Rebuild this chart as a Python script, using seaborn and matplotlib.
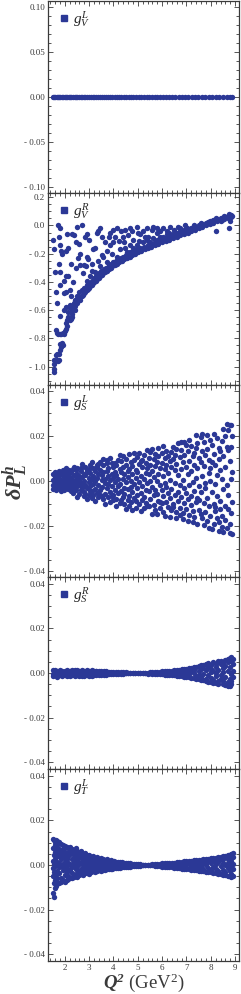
import matplotlib
matplotlib.use("Agg")
import matplotlib.pyplot as plt
from matplotlib.lines import Line2D
from matplotlib.ticker import MultipleLocator, FuncFormatter
import seaborn as sns
import pandas as pd

# ---- data ---------------------------------------------------------------
# panel 1: g_V^L, every point sits on zero
gvl_q2 = [1.51, 1.56, 1.6, 1.66, 1.71, 1.77, 1.82, 1.88, 1.93, 1.99, 2.04, 2.1,
          2.16, 2.21, 2.27, 2.33, 2.4, 2.46, 2.52, 2.58, 2.65, 2.71, 2.78, 2.85,
          2.92, 2.99, 3.06, 3.14, 3.21, 3.29, 3.37, 3.45, 3.53, 3.61, 3.7, 3.78,
          3.87, 3.96, 4.05, 4.14, 4.23, 4.33, 4.42, 4.52, 4.62, 4.72, 4.82, 4.93,
          5.03, 5.14, 5.25, 5.36, 5.47, 5.58, 5.7, 5.81, 5.93, 6.05, 6.17, 6.3,
          6.42, 6.55, 6.68, 6.81, 6.94, 7.07, 7.21, 7.35, 7.49, 7.63, 7.77, 7.91,
          8.06, 8.2, 8.35, 8.5, 8.65, 8.8, 8.88]
gvl_dp = [0.0] * len(gvl_q2)

# panel 2: g_V^R, (Q2, dP) pairs
gvr_pts = [
    (1.57, -1.04), (1.57, -1.02), (1.56, -0.98), (1.55, -0.95), (1.6, -0.96), (1.66, -0.95),
    (1.72, -0.96), (1.76, -0.95), (1.64, -0.92), (1.7, -0.91), (1.78, -0.91), (1.82, -0.88),
    (1.86, -0.86), (1.8, -0.84), (1.88, -0.83), (1.92, -0.85),
    (1.64, -0.74), (1.68, -0.76), (1.74, -0.77), (1.8, -0.77), (1.86, -0.77), (1.92, -0.76),
    (1.98, -0.77), (2.02, -0.75), (2.06, -0.73), (2.1, -0.71), (2.04, -0.69), (2.08, -0.67),
    (2.12, -0.65), (2.16, -0.66), (2.2, -0.67), (2.24, -0.66), (2.28, -0.65), (2.3, -0.63),
    (2.12, -0.61), (2.06, -0.58), (2.16, -0.58), (2.2, -0.56), (2.26, -0.57), (2.32, -0.59),
    (2.36, -0.55), (2.4, -0.57), (2.44, -0.53), (2.5, -0.55), (2.55, -0.52), (2.6, -0.51),
    (2.64, -0.53), (2.7, -0.5), (2.75, -0.49), (2.8, -0.48), (2.85, -0.47), (2.9, -0.46),
    (2.95, -0.45), (3.0, -0.44), (3.05, -0.43), (3.1, -0.42), (3.16, -0.41), (3.22, -0.4),
    (3.28, -0.39), (3.34, -0.38), (3.4, -0.37), (3.46, -0.36), (3.52, -0.35), (3.58, -0.34),
    (3.65, -0.33), (3.72, -0.32), (3.8, -0.31), (3.88, -0.3), (3.96, -0.29), (4.05, -0.28),
    (4.14, -0.27), (4.24, -0.26), (4.34, -0.25), (4.44, -0.24), (4.55, -0.23), (4.66, -0.22),
    (4.78, -0.21), (4.9, -0.2), (5.02, -0.19), (5.15, -0.18), (5.28, -0.17), (5.42, -0.16),
    (5.56, -0.15), (5.7, -0.14), (5.85, -0.13), (6.0, -0.12), (6.15, -0.11), (6.3, -0.1),
    (6.45, -0.09), (6.6, -0.08), (6.75, -0.07), (6.9, -0.06), (7.05, -0.05), (7.2, -0.04),
    (7.35, -0.03), (7.5, -0.02), (7.65, -0.01), (7.8, 0.0), (7.95, 0.01), (8.1, 0.02),
    (8.25, 0.03), (8.4, 0.035), (8.55, 0.045), (8.7, 0.055), (8.85, 0.06),
    (2.3, -0.6), (2.4, -0.6), (2.5, -0.5), (2.6, -0.47), (2.7, -0.46), (2.8, -0.44),
    (2.9, -0.42), (3.0, -0.41), (3.1, -0.39), (3.2, -0.37), (3.3, -0.36), (3.4, -0.34),
    (3.5, -0.32), (3.6, -0.31), (3.7, -0.3), (3.8, -0.28), (3.9, -0.27), (4.0, -0.26),
    (4.1, -0.25), (4.2, -0.24), (4.3, -0.23), (4.4, -0.22), (4.5, -0.21), (4.6, -0.2),
    (4.7, -0.19), (4.8, -0.18), (4.95, -0.17), (5.1, -0.16), (5.25, -0.15), (5.4, -0.14),
    (5.55, -0.13), (5.7, -0.12), (5.85, -0.11), (6.0, -0.1), (6.15, -0.09), (6.3, -0.08),
    (6.45, -0.07), (6.6, -0.06), (6.75, -0.05), (6.9, -0.04), (7.05, -0.03), (7.2, -0.02),
    (7.35, -0.01), (7.5, 0.0), (7.65, 0.01), (7.8, 0.02), (7.95, 0.03), (8.1, 0.04),
    (8.25, 0.045), (8.4, 0.055), (8.55, 0.065), (8.7, 0.07), (8.82, 0.075), (8.88, 0.07),
    (7.3, 0.0), (7.6, 0.02), (7.9, 0.025), (8.2, 0.05), (8.5, 0.055), (8.75, 0.08),
    (8.6, 0.06), (8.45, 0.04), (8.23, -0.04), (8.75, -0.02), (8.8, 0.03), (7.0, -0.02),
    (1.53, -0.1), (1.56, -0.17), (1.74, 0.0), (1.8, -0.02), (1.78, -0.08), (1.81, -0.14),
    (1.85, -0.18), (2.04, -0.18), (1.78, -0.27), (1.6, -0.33), (1.64, -0.47), (1.8, -0.33),
    (1.81, -0.42), (1.8, -0.64), (1.95, -0.39), (2.04, -0.36), (2.14, -0.36), (1.95, -0.48),
    (2.07, -0.47), (2.2, -0.46), (2.08, -0.06), (2.28, -0.06), (2.36, -0.07), (2.46, -0.12),
    (2.6, -0.13), (2.7, 0.0), (2.5, -0.01), (2.63, -0.2), (2.63, -0.28), (2.77, -0.28),
    (2.88, -0.29), (2.84, -0.08), (2.93, -0.06), (2.93, -0.22), (2.97, -0.24), (3.18, -0.17),
    (3.25, -0.16), (3.32, -0.05), (3.38, -0.04), (3.45, -0.02), (3.52, -0.08), (3.52, -0.21),
    (3.59, -0.22), (3.73, -0.18), (3.86, -0.14), (4.0, -0.12), (3.86, -0.05), (4.0, -0.03),
    (4.14, -0.02), (4.07, -0.08), (4.21, -0.11), (4.41, -0.08), (4.48, -0.03), (4.68, -0.02),
    (4.75, -0.04), (4.96, -0.01), (4.82, -0.1), (5.03, -0.11), (5.1, -0.06), (5.23, -0.04),
    (5.37, -0.02), (5.44, -0.08), (5.58, -0.03), (5.64, -0.01), (5.78, -0.05), (5.92, -0.08),
    (6.05, -0.02), (6.19, -0.04), (6.33, -0.01), (6.47, -0.03), (6.67, -0.01), (6.74, -0.04),
    (6.95, 0.0), (7.08, -0.03), (2.9, -0.39), (3.04, -0.36), (3.11, -0.32), (3.25, -0.33),
    (3.45, -0.29), (3.73, -0.26), (4.14, -0.22), (4.27, -0.17), (4.48, -0.16), (4.55, -0.19),
    (4.68, -0.14), (4.82, -0.16), (4.96, -0.14), (5.23, -0.12), (5.37, -0.1), (5.51, -0.12),
    (5.64, -0.09), (5.78, -0.1), (6.05, -0.08), (6.19, -0.06), (6.47, -0.05), (6.74, -0.02),
    (7.01, -0.02), (3.0, -0.1), (3.1, -0.27), (3.65, -0.12), (4.3, -0.04), (5.3, -0.08),
    (5.9, -0.04), (6.6, -0.05), (2.25, -0.27), (2.35, -0.4), (2.45, -0.3), (2.55, -0.23),
    (2.15, -0.16), (1.7, -0.55), (1.9, -0.2), (3.8, -0.08), (4.6, -0.07), (5.0, -0.05),
    (5.8, -0.02), (6.3, -0.05), (6.9, -0.03), (4.45, -0.12), (3.95, -0.2), (3.35, -0.25),
    (2.75, -0.34), (2.25, -0.5), (1.95, -0.6),
]

# panels 3-5: Q2 columns with the dP values (in units of 1e-3) seen there
gsl_cols = [
    (1.52, [3.2, 0.5, -1.8, -3.5]), (1.58, [4.0, 1.6, -0.6, -2.9]), (1.65, [2.4, 0.2, -2.2, -4.1]),
    (1.72, [3.6, 1.1, -1.2, -3.3]), (1.78, [4.4, 2.0, -0.3, -2.6]), (1.85, [2.9, 0.6, -1.7, -4.3]),
    (1.92, [5.0, 3.1, -0.9, -3.0]), (1.98, [1.8, -0.2, -2.5, -3.8]), (2.05, [5.6, 3.5, 1.2, -1.4]),
    (2.12, [4.2, 0.4, -3.6, -2.2]), (2.18, [4.8, 2.3, -0.8, -2.9]), (2.25, [3.8, 1.5, -2.0, -4.6]),
    (2.32, [5.4, 0.1, -1.1, -5.2]), (2.38, [6.1, 2.8, -3.2, -1.0]), (2.45, [4.7, 1.0, -0.5, -4.0]),
    (2.52, [5.9, 3.3, -2.4, -7.1]), (2.58, [2.1, 0.3, -1.6, -5.6]), (2.65, [5.9, 4.4, -3.8, -1.5]),
    (2.72, [7.4, 1.7, -0.7, -2.9]), (2.78, [3.0, 0.0, -4.8, -6.6]), (2.85, [6.3, 2.5, -1.9, -5.9]),
    (2.92, [4.0, 4.9, -3.1, -8.0]), (2.98, [1.2, -0.4, -6.3, 5.3]), (3.05, [7.1, 3.7, -2.2, -4.4]),
    (3.12, [8.6, 0.9, -4.4, -7.5]), (3.18, [5.8, 2.0, -1.3, -6.0]), (3.25, [4.3, -0.2, -3.5, -8.9]),
    (3.32, [7.0, 6.4, 1.4, -5.2]), (3.38, [3.2, -1.8, -7.0, 7.7]), (3.45, [8.4, 5.0, -4.1, -6.3]),
    (3.52, [2.6, 0.6, -2.7, -6.8]), (3.58, [9.6, 6.9, 3.9, -8.1]), (3.65, [1.0, -0.9, -5.6, -10.0]),
    (3.72, [7.9, 4.6, -3.2, 9.2]), (3.78, [5.6, 2.2, -1.5, -7.3]), (3.85, [10.3, 0.4, -4.8, -9.1]),
    (3.92, [8.1, 3.3, -2.4, -6.5]), (3.98, [6.0, 1.5, -6.3, -8.4]), (4.05, [7.8, 4.2, -0.6, -3.9]),
    (4.12, [7.3, 2.7, -7.8, -10.9]), (4.18, [9.4, 0.8, -2.1, -5.5]), (4.25, [5.1, -1.2, -9.6, 11.4]),
    (4.32, [8.7, 3.8, -4.5, -8.6]), (4.38, [11.2, 6.2, 1.1, -7.0]), (4.45, [2.9, -2.9, -5.8, -10.2]),
    (4.52, [9.9, 7.1, -0.3, -12.2]), (4.58, [4.5, 1.9, -3.7, -8.6]), (4.65, [11.8, 5.5, -6.6, -11.0]),
    (4.72, [8.3, 0.2, -2.5, -9.4]), (4.78, [6.8, 3.1, -4.9, -12.7]), (4.85, [12.3, 9.5, -1.4, -7.5]),
    (4.92, [5.0, 1.3, -8.8, -11.8]), (4.98, [10.7, 4.0, -3.3, -6.1]), (5.05, [7.6, -0.5, -10.3, 12.6]),
    (5.12, [9.0, 2.4, -5.4, -13.4]), (5.18, [9.1, 6.3, -2.0, -8.2]), (5.25, [11.6, 0.7, -6.9, -12.1]),
    (5.32, [3.6, -3.8, -9.7, 8.0]), (5.38, [13.6, 5.7, -1.0, -10.9]), (5.45, [10.2, 2.9, -4.6, -11.2]),
    (5.52, [7.2, -0.1, -7.8, 12.8]), (5.58, [14.2, 4.4, -2.8, -14.4]), (5.65, [9.7, 1.6, -10.6, -6.0]),
    (5.72, [11.9, 6.8, -3.9, -12.9]), (5.78, [8.6, 0.0, -5.7, -14.8]), (5.85, [14.7, 3.0, -8.9, 10.9]),
    (5.92, [5.8, -1.9, -12.0, -9.1]), (5.98, [12.4, 8.0, -4.2, -9.9]), (6.05, [15.4, 2.1, -6.5, -13.7]),
    (6.12, [10.0, 5.3, -1.1, -15.6]), (6.18, [13.3, -2.8, -9.3, 7.0]), (6.25, [11.0, 3.7, -11.4, -5.2]),
    (6.32, [8.8, 0.6, -7.4, -15.9]), (6.38, [12.9, 6.0, -3.5, -13.0]), (6.45, [15.2, 9.9, -10.1, -11.3]),
    (6.52, [4.8, -0.8, -6.0, 11.7]), (6.58, [14.0, 7.7, -13.6, -16.6]), (6.65, [16.8, 2.6, -4.7, -9.0]),
    (6.72, [10.5, -1.6, -11.9, -15.0]), (6.78, [13.8, 5.1, -7.1, 17.3]), (6.85, [8.2, 0.4, -14.2, -17.0]),
    (6.92, [17.4, 11.4, -3.0, -9.8]), (6.98, [6.4, -5.5, -12.5, 15.8]), (7.05, [13.1, 2.9, -8.0, -17.9]),
    (7.12, [18.0, 9.0, -1.9, -15.2]), (7.18, [15.5, 4.3, -10.8, -6.7]), (7.25, [11.0, -0.6, -13.3, -18.2]),
    (7.32, [12.6, 7.3, -4.4, -16.0]), (7.38, [14.6, 1.2, -9.2, 20.5]), (7.45, [16.7, 5.9, -7.5, -19.1]),
    (7.52, [10.3, -2.3, -12.8, -8.5]), (7.58, [19.3, 8.6, -5.0, -14.7]), (7.65, [13.4, 2.0, -16.6, 21.0]),
    (7.72, [17.1, 6.6, -9.6, -19.7]), (7.78, [11.5, -0.9, -3.2, -13.9]), (7.85, [20.2, 14.3, -7.7, -17.6]),
    (7.92, [9.4, 3.4, -11.1, -20.6]), (7.98, [18.2, 0.2, -15.3, 5.6]), (8.05, [15.9, 8.4, -4.8, -21.1]),
    (8.12, [20.7, 12.0, -10.4, -18.9]), (8.18, [6.9, -1.4, -13.1, -11.6]), (8.25, [19.0, 2.7, -6.8, -16.4]),
    (8.32, [14.8, 9.7, -18.0, -22.0]), (8.38, [13.3, 4.8, -8.7, -12.4]), (8.45, [17.6, 0.9, -15.7, -20.3]),
    (8.52, [23.0, 11.1, -3.6, -22.4]), (8.58, [20.0, 6.1, -10.9, -17.3]), (8.65, [25.3, 15.1, -1.7, -20.9]),
    (8.72, [22.6, 13.9, -12.6, -6.3]), (8.78, [24.8, 8.9, -19.2, -22.9]), (8.85, [25.0, 15.2, 0.8, -14.2]),
    (8.88, [19.8, 4.1, -9.4, -23.3]),
]

gsr_cols = [
    (1.52, [1.2, -0.3, -1.5]), (1.6, [0.5, -1.1, 1.4]), (1.7, [-0.4, 1.0, -1.6]), (1.8, [1.5, 0.2, -1.0]),
    (1.9, [-1.4, 0.8, -0.2]), (2.0, [1.1, -0.9, 0.0]), (2.1, [-1.5, 1.4, 0.4]), (2.2, [0.9, -0.6, -1.3]),
    (2.3, [1.5, -0.1, -1.1]), (2.4, [-1.5, 0.6, 1.2]), (2.5, [0.2, -1.0, 1.4]), (2.6, [-0.5, 1.0, -1.4]),
    (2.7, [1.3, -1.2, 0.3]), (2.8, [-0.2, 1.1, -1.4]), (2.9, [1.4, -0.8, 0.5]), (3.0, [-1.3, 0.9, -0.1]),
    (3.1, [1.2, -1.2, 0.2]), (3.2, [-0.6, 1.1, -1.0]), (3.3, [0.7, -1.1, 1.0]), (3.4, [-0.3, 1.0, -1.0]),
    (3.5, [0.9, -0.8, 0.1]), (3.6, [-0.7, 0.8, 0.0]), (3.7, [0.7, -0.7, 0.2]), (3.8, [-0.6, 0.6, -0.1]),
    (3.9, [0.6, -0.5]), (4.0, [0.4, -0.5, 0.0]), (4.1, [-0.4, 0.5]), (4.2, [0.3, -0.4, 0.0]),
    (4.3, [-0.3, 0.4]), (4.4, [0.3, -0.3]), (4.5, [0.0, 0.3, -0.2]), (4.6, [0.2, -0.2]),
    (4.7, [-0.1, 0.2]), (4.8, [0.1, -0.2]), (4.9, [0.0, 0.2]), (5.0, [-0.1, 0.1]), (5.1, [0.1, -0.2]),
    (5.2, [0.2, -0.1]), (5.3, [-0.2, 0.2]), (5.4, [0.1, -0.3]), (5.5, [0.3, -0.2, 0.0]),
    (5.6, [-0.3, 0.4]), (5.7, [0.4, -0.4, 0.0]), (5.8, [-0.5, 0.5]), (5.9, [0.6, -0.4, 0.1]),
    (6.0, [-0.6, 0.7, 0.0]), (6.1, [0.8, -0.7, 0.2]), (6.2, [-0.8, 0.9, -0.1]), (6.3, [1.0, -0.9, 0.3]),
    (6.4, [-1.1, 1.1, 0.0]), (6.5, [1.3, -1.0, -0.3]), (6.6, [-1.3, 1.4, 0.4]), (6.7, [1.5, -1.5, 0.0]),
    (6.8, [-1.4, 1.7, 0.6]), (6.9, [1.8, -1.6, -0.5]), (7.0, [-1.9, 2.0, 0.3]),
    (7.1, [1.2, -1.8, 2.2, -0.4]), (7.2, [-2.1, 2.3, 0.8]), (7.3, [2.5, -2.4, 0.0, 1.3]),
    (7.4, [-1.2, 2.7, -2.6]), (7.5, [3.0, -2.8, 0.7, -0.9]), (7.6, [1.9, -3.0, 3.4, -1.8]),
    (7.7, [-0.3, 3.6, -3.3, 2.3]), (7.8, [4.0, -2.5, 1.2, -3.7]), (7.9, [-1.0, 4.4, -3.9, 2.9]),
    (8.0, [3.4, -4.1, 0.4, -2.2, 1.9]), (8.1, [-3.0, 4.8, -4.3, 0.9]), (8.2, [2.6, -1.5, 4.2, -4.6, -0.2]),
    (8.3, [5.2, -3.6, 1.5, -4.8]), (8.4, [-0.8, 3.9, -2.7, 5.5]), (8.5, [4.5, -5.0, 0.3, 2.2, -3.4]),
    (8.6, [6.0, -1.9, -5.3, 3.3]), (8.7, [6.4, 1.0, -4.1, 4.9, -5.6]), (8.8, [-2.9, 6.6, 2.5, -5.8]),
    (8.85, [7.1, -0.6, 5.2, -4.9, -3.5]), (8.9, [4.0, -2.0, 0.8, 6.2]),
]

gtl_cols = [
    (1.52, [11.8, -12.5, 7.5, -5.0, 2.0, -1.5]), (1.55, [11.0, -14.2, 4.5, -8.0, 0.5, -3.2]),
    (1.6, [10.5, -10.5, 6.0, -6.5, 2.5, -0.5, 8.8]), (1.65, [11.3, -9.2, 3.5, -4.2, 0.0, 6.7]),
    (1.7, [10.7, -7.8, 5.2, -2.5, 1.5, -5.6, 9.0]), (1.78, [10.2, -8.0, 4.0, -3.8, 0.8, 7.1, -1.0]),
    (1.85, [9.6, -7.4, 2.8, -6.0, 5.6, -0.3]), (1.92, [9.1, -6.9, 4.3, -2.2, 0.6, 7.0]),
    (2.0, [8.6, -7.6, 3.0, -4.5, 1.5, 6.0, -1.2]), (2.08, [8.0, -6.8, 5.2, -3.1, 0.2, 2.6]),
    (2.15, [7.7, -6.2, 1.0, -4.9, 3.9, -1.8]), (2.22, [8.1, -5.6, 4.8, -2.4, 0.4, 6.3]),
    (2.3, [7.0, -5.9, 2.9, -3.8, -0.8, 5.5]), (2.38, [6.6, -5.2, 1.4, -4.3, 3.5, 0.0]),
    (2.45, [7.4, -4.8, 4.6, -2.0, 0.8, 6.0]), (2.52, [6.1, -5.3, 2.3, -3.4, -0.5, 4.0]),
    (2.6, [5.4, -4.5, 1.0, -2.6, 3.2, 0.3]), (2.68, [6.2, -4.2, 3.8, -1.6, 0.9, -3.0]),
    (2.76, [4.9, -4.6, 2.1, -2.8, 0.0, 4.0]), (2.84, [5.4, -3.8, 1.2, -1.4, 3.0, -2.6]),
    (2.92, [4.3, -3.5, 2.6, -2.0, 0.4, -0.8]), (3.0, [4.6, -3.9, 1.7, -2.7, 0.1, 3.2]),
    (3.08, [3.6, -3.2, 2.2, -1.2, 0.7]), (3.16, [4.1, -2.9, 1.0, -2.0, -0.4]),
    (3.24, [3.2, -3.3, 2.0, -1.0, 0.3]), (3.32, [3.4, -2.6, 1.2, -1.8, 0.0]),
    (3.4, [2.8, -2.4, 1.6, -0.7]), (3.48, [3.0, -2.7, 0.5, -1.5]), (3.56, [2.6, -2.2, 1.1, -0.4]),
    (3.64, [2.3, -2.4, 0.2, -1.2, 1.5]), (3.72, [2.5, -2.0, 0.9, -0.8]), (3.8, [2.0, -1.9, 0.0, 1.3]),
    (3.88, [2.1, -1.7, 0.6, -0.9]), (3.96, [1.7, -1.8, 0.3, -0.6]), (4.04, [1.8, -1.5, 0.8, -0.3]),
    (4.12, [1.5, -1.5, 0.0, 0.9]), (4.2, [1.4, -1.3, 0.5, -0.6]), (4.28, [1.3, -1.2, -0.2]),
    (4.36, [1.2, -1.1, 0.4]), (4.44, [1.0, -1.0, 0.0]), (4.52, [0.9, -0.9, 0.3]),
    (4.6, [0.8, -0.8, -0.1]), (4.68, [0.7, -0.7, 0.2]), (4.76, [0.6, -0.6]), (4.84, [0.5, -0.5, 0.0]),
    (4.92, [0.5, -0.4]), (5.0, [0.4, -0.4, 0.0]), (5.1, [0.3, -0.3]), (5.2, [0.2, -0.2]),
    (5.3, [0.2, -0.1]), (5.4, [0.1, -0.1]), (5.5, [0.2, -0.2]), (5.6, [0.3, -0.2]), (5.7, [0.3, -0.4]),
    (5.8, [0.5, -0.4, 0.0]), (5.9, [0.6, -0.6]), (6.0, [0.7, -0.7, 0.1]), (6.1, [0.7, -0.8]),
    (6.2, [0.9, -0.8, 0.0]), (6.3, [0.9, -1.0]), (6.4, [1.1, -1.0, 0.2]), (6.5, [1.1, -1.2, -0.3]),
    (6.6, [1.3, -1.3, 0.4]), (6.7, [1.4, -1.4, -0.2]), (6.8, [1.5, -1.6, 0.5]), (6.9, [1.6, -1.7, -0.4]),
    (7.0, [1.7, -1.8, 0.3, -0.9]), (7.1, [1.8, -1.9, 0.8]), (7.2, [1.9, -2.1, -0.5, 0.6]),
    (7.3, [2.1, -2.2, 1.0, -1.2]), (7.4, [2.2, -2.3, 0.0]), (7.5, [2.4, -2.5, 1.3, -1.1]),
    (7.6, [2.3, -2.7, 0.5, -0.6]), (7.7, [2.6, -2.8, 1.6, -1.7]), (7.8, [2.8, -3.0, 0.2, 1.0]),
    (7.9, [2.7, -3.2, -1.4, 1.8]), (8.0, [3.0, -3.3, 0.7, -2.2]), (8.1, [3.2, -3.5, 1.9, -0.8]),
    (8.2, [3.3, -3.8, 0.3, -1.9, 2.4]), (8.3, [3.5, -3.9, 1.4, -2.8]), (8.4, [3.7, -4.1, -0.6, 2.6]),
    (8.5, [3.9, -4.4, 1.0, -2.4, 2.8]), (8.6, [4.2, -4.6, 0.2, -3.3]), (8.7, [4.3, -4.8, 2.6, -1.3, 0.9]),
    (8.8, [4.5, -5.1, 3.4, -2.9, -0.3]), (8.85, [4.8, -5.4, 1.8, -4.0]), (8.9, [5.2, -5.0, 0.6, 3.5, -2.0]),
]

labels = [r"$g_V^L$", r"$g_V^R$", r"$g_S^L$", r"$g_S^R$", r"$g_T^L$"]
ylims = [(-0.107, 0.107), (-1.13, 0.23), (-0.0425, 0.0425), (-0.043, 0.043), (-0.043, 0.043)]
major_steps = [0.05, 0.2, 0.02, 0.02, 0.02]
minor_steps = [0.01, 0.05, 0.005, 0.005, 0.005]
decimals = [2, 1, 2, 2, 2]

POINT = "#2b3896"
INK = "#3a3a3a"


def expand(cols):
    q2 = [x for x, ys in cols for _ in ys]
    dp = [y * 1e-3 for _, ys in cols for y in ys]
    return pd.DataFrame({"Q2": q2, "dP": dp})


frames = [
    pd.DataFrame({"Q2": gvl_q2, "dP": gvl_dp}),
    pd.DataFrame(gvr_pts, columns=["Q2", "dP"]),
    expand(gsl_cols),
    expand(gsr_cols),
    expand(gtl_cols),
]


def tick_fmt(nd):
    def f(v, pos):
        if v < -1e-9:
            return f"- {abs(v):.{nd}f}"
        return f"{abs(v):.{nd}f}"
    return FuncFormatter(f)


sns.set_theme(style="ticks")
plt.rcParams["font.family"] = ["Liberation Serif", "DejaVu Serif"]
plt.rcParams["mathtext.fontset"] = "custom"
plt.rcParams["mathtext.rm"] = "Liberation Serif"
plt.rcParams["mathtext.it"] = "Liberation Serif:italic"
plt.rcParams["mathtext.bf"] = "Liberation Serif:italic:bold"

fig, axes = plt.subplots(5, 1, figsize=(2.41, 9.94), dpi=100, sharex=True)
fig.subplots_adjust(left=48 / 241, right=239 / 241, top=1 - 1 / 994,
                    bottom=33 / 994, hspace=0)

for i, ax in enumerate(axes):
    sns.scatterplot(data=frames[i], x="Q2", y="dP", ax=ax, color=POINT,
                    s=15, linewidth=0, legend=False)
    ax.set_xlim(1.31, 9.16)
    ax.set_ylim(*ylims[i])
    ax.yaxis.set_major_locator(MultipleLocator(major_steps[i]))
    ax.yaxis.set_minor_locator(MultipleLocator(minor_steps[i]))
    ax.yaxis.set_major_formatter(tick_fmt(decimals[i]))
    ax.xaxis.set_major_locator(MultipleLocator(1))
    ax.xaxis.set_minor_locator(MultipleLocator(0.2))
    ax.tick_params(which="both", direction="in", top=True, right=True,
                   colors=INK, labelcolor=INK, labelsize=6.5, pad=2, width=0.6)
    ax.tick_params(which="major", length=3.5)
    ax.tick_params(which="minor", length=2)
    for sp in ax.spines.values():
        sp.set_color(INK)
        sp.set_linewidth(0.9)
    ax.set_xlabel("")
    ax.set_ylabel("")
    handle = Line2D([0], [0], marker="s", ls="", color=POINT, markersize=4.5)
    ax.legend([handle], [labels[i]], loc="upper left", frameon=False,
              fontsize=11, handletextpad=0.1, handlelength=1.0,
              borderaxespad=0.25, borderpad=0.3)

axes[-1].set_xticks(range(2, 10))
axes[-1].set_xlabel(r"$\mathbf{Q}^{\mathbf{2}}$ (GeV$^{2}$)", fontsize=13.5,
                    color=INK, labelpad=0)
fig.text(16 / 241, 1 - 482 / 994, r"$\mathbf{\delta P}_{\mathbf{L}}^{\mathbf{h}}$",
         rotation=90, fontsize=16, color=INK, ha="center", va="center")

fig.savefig("out.png", dpi=100)
